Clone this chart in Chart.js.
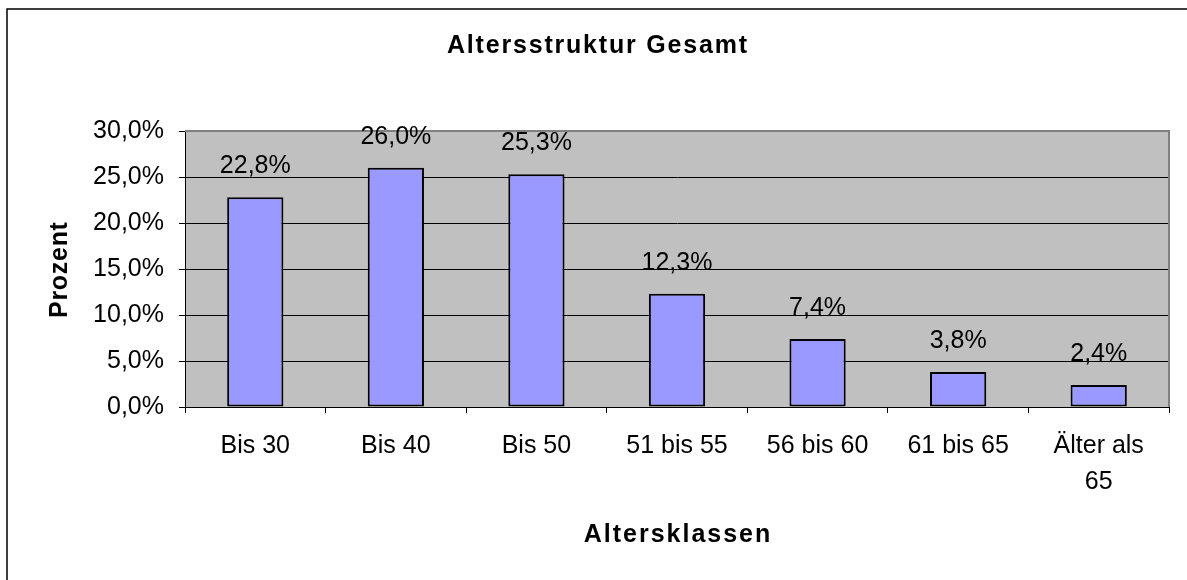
<!DOCTYPE html>
<html>
<head>
<meta charset="utf-8">
<script src="https://cdn.jsdelivr.net/npm/chart.js@4/dist/chart.umd.min.js"></script>
<style>
  html, body { margin: 0; padding: 0; background: #fff; }
  canvas { display: block; }
</style>
</head>
<body>
<canvas id="c" width="1187" height="580"></canvas>
<script>
const categories = ['Bis 30', 'Bis 40', 'Bis 50', '51 bis 55', '56 bis 60', '61 bis 65', ['Älter als', '65']];
const values = [22.8, 26.0, 25.3, 12.3, 7.4, 3.8, 2.4];
const yTicks = [0, 5, 10, 15, 20, 25, 30];
const chartTitle = 'Altersstruktur Gesamt';
const xTitle = 'Altersklassen';
const yTitle = 'Prozent';

const FONT = '"Liberation Sans", Arial, sans-serif';
const fmt = v => v.toFixed(1).replace('.', ',') + '%';

function spacedText(ctx, text, cx, y, spacing) {
  ctx.letterSpacing = spacing + 'px';
  const w = ctx.measureText(text).width - spacing;
  ctx.textAlign = 'left';
  ctx.fillText(text, cx - w / 2, y);
  ctx.letterSpacing = '0px';
}

const decor = {
  id: 'decor',
  beforeDraw(chart) {
    const { ctx, chartArea: a } = chart;
    ctx.save();
    ctx.fillStyle = '#ffffff';
    ctx.fillRect(0, 0, chart.width, chart.height);
    ctx.strokeStyle = '#000';
    ctx.lineWidth = 1.5;
    ctx.strokeRect(7, 9, 1300, 700);
    ctx.fillStyle = '#C0C0C0';
    ctx.fillRect(a.left, a.top, a.right - a.left, a.bottom - a.top);
    ctx.restore();
  },
  afterDatasetsDraw(chart) {
    const { ctx, chartArea: a } = chart;
    ctx.save();
    ctx.strokeStyle = '#808080';
    ctx.lineWidth = 2;
    ctx.beginPath();
    ctx.moveTo(a.left, a.top);
    ctx.lineTo(a.right, a.top);
    ctx.lineTo(a.right, a.bottom);
    ctx.stroke();
    const meta = chart.getDatasetMeta(0);
    ctx.fillStyle = '#000';
    ctx.font = '25px ' + FONT;
    ctx.textAlign = 'center';
    ctx.textBaseline = 'alphabetic';
    meta.data.forEach((bar, i) => {
      ctx.fillText(fmt(values[i]), bar.x, bar.y - 24);
    });
    ctx.font = 'bold 25px ' + FONT;
    spacedText(ctx, chartTitle, 597, 53, 1.8);
    spacedText(ctx, xTitle, 677, 542, 2);
    ctx.translate(67, 270);
    ctx.rotate(-Math.PI / 2);
    spacedText(ctx, yTitle, 0, 0, 0.7);
    ctx.restore();
  }
};

new Chart(document.getElementById('c'), {
  type: 'bar',
  data: {
    labels: categories,
    datasets: [{
      data: values,
      backgroundColor: '#9999FF',
      borderColor: '#000000',
      borderWidth: 2,
      borderSkipped: false,
      categoryPercentage: 1.0,
      barPercentage: 0.4
    }]
  },
  options: {
    responsive: false,
    animation: false,
    devicePixelRatio: 1,
    layout: { padding: { left: 0, top: 131, right: 18, bottom: 0 } },
    plugins: {
      legend: { display: false },
      title: { display: false },
      tooltip: { enabled: false }
    },
    scales: {
      x: {
        afterFit(scale) { scale.height = 173; },
        grid: { offset: true, drawOnChartArea: false, drawTicks: true, tickLength: 6, color: '#000', lineWidth: 1 },
        border: { display: true, color: '#000', width: 1 },
        ticks: {
          color: '#000',
          padding: 15,
          maxRotation: 0,
          autoSkip: false,
          font: { family: FONT, size: 25, lineHeight: 1.45 }
        }
      },
      y: {
        min: 0,
        max: 30,
        afterFit(scale) { scale.width = 185; },
        afterBuildTicks(scale) { scale.ticks = yTicks.map(v => ({ value: v })); },
        grid: { color: '#000', lineWidth: 1, tickLength: 6, drawTicks: true },
        border: { display: true, color: '#000', width: 1 },
        ticks: {
          color: '#000',
          padding: 15,
          font: { family: FONT, size: 25 },
          callback: v => fmt(v)
        }
      }
    }
  },
  plugins: [decor]
});
</script>
</body>
</html>
